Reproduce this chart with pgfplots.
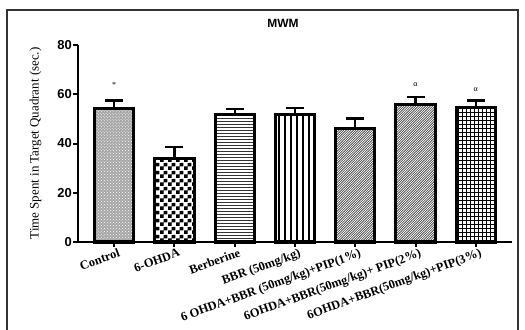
\documentclass[border=0pt]{standalone}
\usepackage{fontspec}
\setmainfont{Liberation Serif}
\newfontfamily\arialf{Liberation Sans}
\usepackage{pgfplots}
\pgfplotsset{compat=1.18}
\usetikzlibrary{patterns}

\pgfdeclarepatternformonly{mychecker}{\pgfpointorigin}{\pgfqpoint{8bp}{8bp}}{\pgfqpoint{8bp}{8bp}}{%
  \pgfpathrectangle{\pgfpointorigin}{\pgfqpoint{4bp}{4bp}}%
  \pgfpathrectangle{\pgfqpoint{4bp}{4bp}}{\pgfqpoint{4bp}{4bp}}%
  \pgfusepath{fill}}
\pgfdeclarepatternformonly{hl}{\pgfqpoint{-1bp}{-1bp}}{\pgfqpoint{4bp}{4bp}}{\pgfqpoint{3bp}{3bp}}{%
  \pgfsetlinewidth{0.9bp}\pgfpathmoveto{\pgfqpoint{-0.1bp}{1.5bp}}\pgfpathlineto{\pgfqpoint{3.1bp}{1.5bp}}\pgfusepath{stroke}}
\pgfdeclarepatternformonly{vl}{\pgfqpoint{-1bp}{-1bp}}{\pgfqpoint{7bp}{7bp}}{\pgfqpoint{6bp}{6bp}}{%
  \pgfsetlinewidth{1.3bp}\pgfpathmoveto{\pgfqpoint{3bp}{-0.1bp}}\pgfpathlineto{\pgfqpoint{3bp}{6.1bp}}\pgfusepath{stroke}}
\pgfdeclarepatternformonly{dl}{\pgfqpoint{-1bp}{-1bp}}{\pgfqpoint{4bp}{4bp}}{\pgfqpoint{2.4bp}{2.4bp}}{%
  \pgfsetlinewidth{0.6bp}\pgfpathmoveto{\pgfqpoint{0bp}{0bp}}\pgfpathlineto{\pgfqpoint{2.4bp}{2.4bp}}\pgfusepath{stroke}}
\pgfdeclarepatternformonly{gr}{\pgfqpoint{-1bp}{-1bp}}{\pgfqpoint{5bp}{5bp}}{\pgfqpoint{4bp}{4bp}}{%
  \pgfsetlinewidth{0.9bp}%
  \pgfpathmoveto{\pgfqpoint{-0.1bp}{2bp}}\pgfpathlineto{\pgfqpoint{4.1bp}{2bp}}%
  \pgfpathmoveto{\pgfqpoint{2bp}{-0.1bp}}\pgfpathlineto{\pgfqpoint{2bp}{4.1bp}}%
  \pgfusepath{stroke}}

\begin{document}
\begin{tikzpicture}
\useasboundingbox (0,0) rectangle (525bp,330bp);
\begin{axis}[
  at={(78bp,88bp)}, anchor=south west,
  scale only axis, width=434bp, height=197bp,
  xmin=-0.6, xmax=6.6, ymin=0, ymax=80,
  axis lines=left, axis line style={-, line width=2.6bp},
  ytick={0,20,40,60,80}, xtick={0,1,2,3,4,5,6},
  xticklabels={Control, 6-OHDA, Berberine, BBR (50mg/kg), 6 OHDA+BBR (50mg/kg)+PIP(1\%), 6OHDA+BBR(50mg/kg)+ PIP(2\%), 6OHDA+BBR(50mg/kg)+PIP(3\%)},
  tick align=outside, major tick length=5bp,
  tick style={line width=2bp, black},
  /pgf/number format/assume math mode=true,
  yticklabel style={font=\arialf\bfseries\fontsize{13}{13}\selectfont, inner sep=1bp},
  xticklabel style={font=\bfseries\fontsize{12.5}{12.5}\selectfont, rotate=20, anchor=north east, inner sep=1bp, xshift=4bp, yshift=-1bp},
  ylabel={Time Spent in Target Quadrant (sec.)},
  every axis y label/.style={at={(axis description cs:-0.076,0.5)}, rotate=90, anchor=south, font=\fontsize{13}{13}\selectfont},
  clip=false,
  mybar/.style={ybar, bar width=0.65, bar shift=0pt, draw=black, line width=3bp,
    error bars/y dir=plus, error bars/y explicit,
    error bars/error mark=|,
    error bars/error bar style={line width=2.4bp, black},
    error bars/error mark options={line width=2.4bp, mark size=9bp, black}},
]
\addplot[mybar, fill=gray!70, postaction={pattern=crosshatch dots, pattern color=white}] coordinates {(0,54.3) +- (0,3.1)};
\addplot[mybar, pattern=mychecker, pattern color=black] coordinates {(1,34.0) +- (0,4.7)};
\addplot[mybar, pattern=hl, pattern color=black!80] coordinates {(2,51.6) +- (0,2.5)};
\addplot[mybar, pattern=vl, pattern color=black] coordinates {(3,51.6) +- (0,2.7)};
\addplot[mybar, pattern=dl, pattern color=black!80] coordinates {(4,46.2) +- (0,4.0)};
\addplot[mybar, pattern=dl, pattern color=black!80] coordinates {(5,55.9) +- (0,2.9)};
\addplot[mybar, pattern=gr, pattern color=black] coordinates {(6,54.5) +- (0,2.9)};
\node[font=\fontsize{8}{8}\selectfont] at (axis cs:0,64) {*};
\node[font=\fontsize{8}{8}\selectfont] at (axis cs:5,63.7) {α};
\node[font=\fontsize{8}{8}\selectfont] at (axis cs:6,61.9) {α};
\end{axis}
\node[font=\arialf\bfseries\fontsize{12}{12}\selectfont] at (283bp,307bp) {MWM};
\draw[line width=1.6bp, black!80] (7bp,-3bp) -- (7bp,320bp) -- (518bp,320bp) -- (518bp,-3bp);
\end{tikzpicture}
\end{document}
